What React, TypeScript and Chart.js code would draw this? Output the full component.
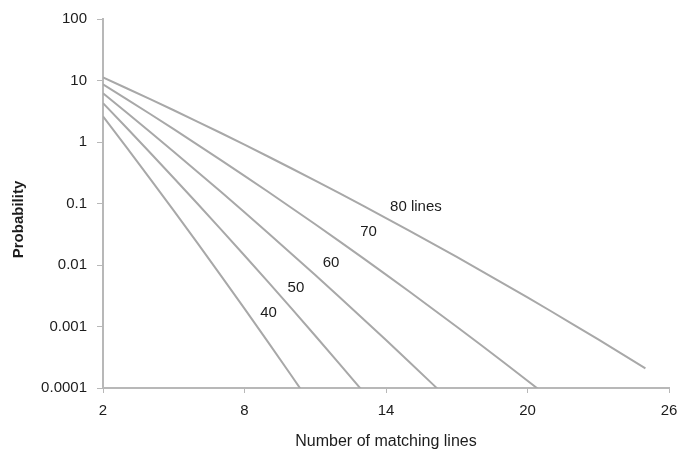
import React, { useEffect, useRef } from "react";
import { Chart, registerables } from "chart.js";

Chart.register(...registerables);

// x positions (number of matching lines)
const xValues = [2, 3, 4, 5, 6, 7, 8, 9, 10, 11, 12, 13, 14, 15, 16, 17, 18, 19, 20, 21, 22, 23, 24, 25];

// probabilities (%) per line count
const p80 = [11.2, 7.49, 4.97, 3.28, 2.15, 1.4, 0.904, 0.581, 0.371, 0.2355, 0.1486, 0.0931, 0.058, 0.0359, 0.0221, 0.0135, 0.0082, 0.00495, 0.00297, 0.00177, 0.001047, 0.000616, 0.00036, 0.000209];
const p70 = [8.65, 4.98, 2.85, 1.615, 0.909, 0.508, 0.2816, 0.155, 0.0846, 0.0459, 0.0247, 0.01317, 0.00698, 0.00367, 0.00191, 0.00099, 0.00051, 0.00026, 0.0001315, 0.000066];
const p60 = [6.19, 3.02, 1.455, 0.696, 0.3296, 0.1547, 0.0719, 0.0332, 0.01515, 0.00685, 0.00307, 0.001366, 0.000601, 0.000262, 0.0001134, 0.0000486];
const p50 = [4.28, 1.701, 0.669, 0.2603, 0.1001, 0.03804, 0.01429, 0.0053, 0.00195, 0.000708, 0.000254, 0.0000901];
const p40 = [2.61, 0.818, 0.252, 0.0765, 0.02286, 0.00673, 0.00195, 0.000557, 0.0001566, 0.0000434];

const seriesNames = ["80 lines", "70", "60", "50", "40"];
const seriesValues = [p80, p70, p60, p50, p40];

// in-plot series labels, positioned in data units
const labelText = ["80 lines", "70", "60", "50", "40"];
const labelX = [15.27, 13.26, 11.67, 10.18, 9.02];
const labelY = [0.087, 0.035, 0.011, 0.0043, 0.00167];

const xTicks = [2, 8, 14, 20, 26];
const yTicks = [0.0001, 0.001, 0.01, 0.1, 1, 10, 100];
const yTickLabels = ["0.0001", "0.001", "0.01", "0.1", "1", "10", "100"];

const xTitle = "Number of matching lines";
const yTitle = "Probability";

const FONT = "'Liberation Sans', Arial, Helvetica, sans-serif";
const TEXT = "#1c1c1c";
const LINE = "#a8a8a8";
const AXIS = "#b8b8b8";

const annotationPlugin = {
  id: "annot",
  afterDatasetsDraw(chart: any) {
    const { ctx, chartArea, scales } = chart;
    const xs = scales.x;
    const ys = scales.y;
    ctx.save();
    ctx.fillStyle = TEXT;
    ctx.font = `15px ${FONT}`;
    ctx.textAlign = "center";
    ctx.textBaseline = "middle";
    for (let i = 0; i < labelText.length; i++) {
      ctx.fillText(labelText[i], xs.getPixelForValue(labelX[i]), ys.getPixelForValue(labelY[i]));
    }
    // axis titles
    ctx.font = `16px ${FONT}`;
    ctx.fillText(xTitle, (chartArea.left + chartArea.right) / 2, chartArea.bottom + 54);
    ctx.font = `bold 15px ${FONT}`;
    ctx.translate(19, (chartArea.top + chartArea.bottom) / 2 + 16);
    ctx.rotate(-Math.PI / 2);
    ctx.fillText(yTitle, 0, 0);
    ctx.restore();
  },
};

export default function App() {
  const ref = useRef<HTMLCanvasElement | null>(null);

  useEffect(() => {
    if (!ref.current) return;
    const datasets = seriesValues.map((vals, i) => ({
      label: seriesNames[i],
      data: vals.map((v, j) => ({ x: xValues[j], y: v })),
      borderColor: LINE,
      backgroundColor: LINE,
      borderWidth: 2,
      pointRadius: 0,
      tension: 0,
      fill: false,
    }));
    const chart = new Chart(ref.current, {
      type: "line",
      data: { datasets },
      options: {
        animation: false,
        responsive: false,
        layout: { padding: { left: 0, top: 15, right: 23, bottom: 0 } },
        plugins: { legend: { display: false }, tooltip: { enabled: false } },
        scales: {
          x: {
            type: "linear",
            min: 2,
            max: 26,
            afterBuildTicks: (s: any) => {
              s.ticks = xTicks.map((v) => ({ value: v }));
            },
            afterFit: (s: any) => {
              s.height = 61;
            },
            grid: { drawOnChartArea: false, drawTicks: true, tickLength: 5, color: AXIS, lineWidth: 1 },
            border: { display: true, color: AXIS, width: 2 },
            ticks: {
              color: TEXT,
              font: { family: FONT, size: 15 },
              padding: 9,
              maxRotation: 0,
              autoSkip: false,
              callback: (v: any) => String(v),
            },
          },
          y: {
            type: "logarithmic",
            min: 0.0001,
            max: 100,
            afterBuildTicks: (s: any) => {
              s.ticks = yTicks.map((v) => ({ value: v }));
            },
            afterFit: (s: any) => {
              s.width = 103;
            },
            grid: { drawOnChartArea: false, drawTicks: true, tickLength: 6, color: AXIS, lineWidth: 1 },
            border: { display: true, color: AXIS, width: 2 },
            ticks: {
              color: TEXT,
              font: { family: FONT, size: 15 },
              padding: 10,
              autoSkip: false,
              callback: (v: any) => {
                const idx = yTicks.findIndex((t) => Math.abs(t - v) / t < 1e-6);
                return idx >= 0 ? yTickLabels[idx] : "";
              },
            },
          },
        },
      },
      plugins: [annotationPlugin],
    });
    return () => chart.destroy();
  }, []);

  return (
    <div style={{ position: "fixed", left: 0, top: 0, width: 692, height: 449, background: "#fff" }}>
      <canvas ref={ref} width={692} height={449} style={{ display: "block" }} />
    </div>
  );
}
